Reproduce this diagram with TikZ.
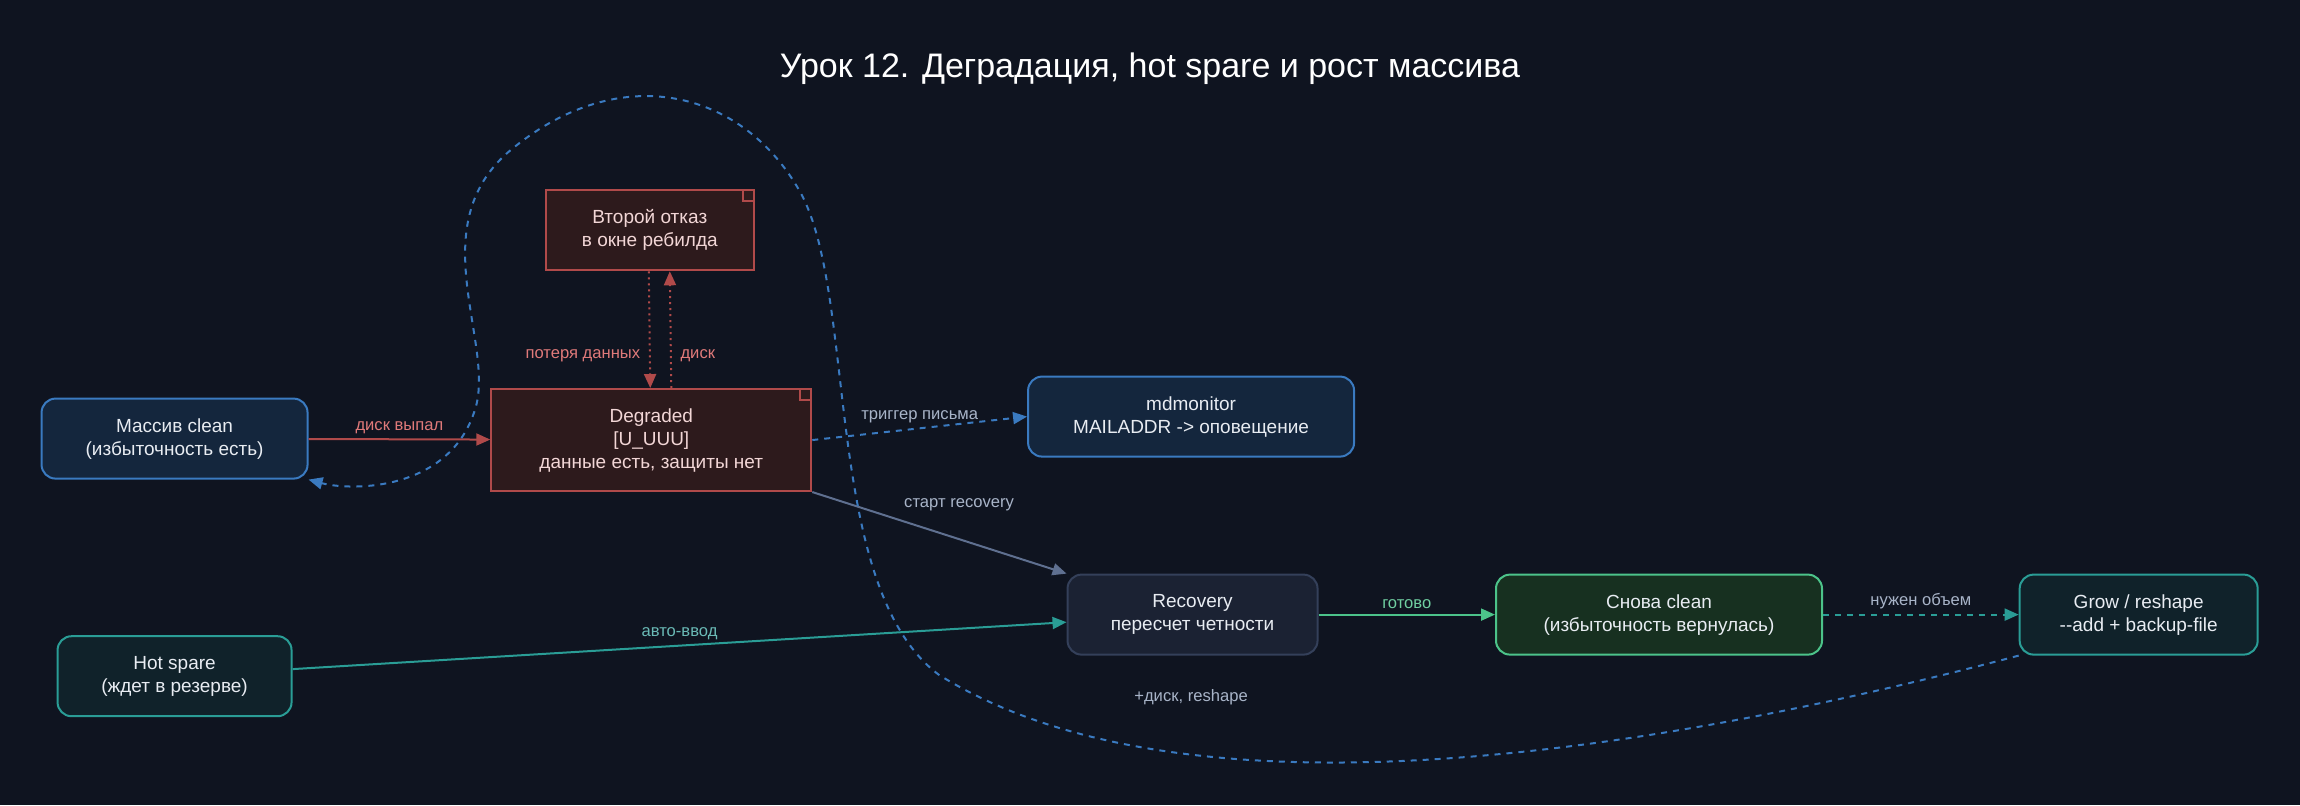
\documentclass[tikz,border=0pt]{standalone}
\usepackage{fontspec}
\setmainfont{Liberation Sans}
\usetikzlibrary{arrows.meta,positioning}
\definecolor{bgc}{HTML}{0F1420}
\definecolor{txtc}{HTML}{E8ECF2}
\definecolor{bluefill}{HTML}{14263D}
\definecolor{blueline}{HTML}{3A7AC0}
\definecolor{redfill}{HTML}{2D1A1C}
\definecolor{redline}{HTML}{B04A4A}
\definecolor{redtxt}{HTML}{F2D6D6}
\definecolor{redlbl}{HTML}{E07A7A}
\definecolor{recfill}{HTML}{1B2233}
\definecolor{recline}{HTML}{34405A}
\definecolor{greyline}{HTML}{5F7090}
\definecolor{greenfill}{HTML}{173020}
\definecolor{greenline}{HTML}{4CC38A}
\definecolor{tealfill}{HTML}{10222A}
\definecolor{tealline}{HTML}{2A9D96}
\definecolor{lblc}{HTML}{A8B4C8}
\tikzset{
    box/.style = {
        draw,
        line width=1pt,
        align=center,
        text=txtc,
        font=\fontsize{9.5}{11.5}\selectfont},
    state/.style = {
        box,
        rounded corners=7pt,
        minimum height=40pt},
    bluebox/.style = {
        state,
        draw=blueline,
        fill=bluefill},
    notebox/.style = {
        box,
        draw=redline,
        fill=redfill,
        text=redtxt},
    recbox/.style = {
        state,
        draw=recline,
        fill=recfill},
    greenbox/.style = {
        state,
        draw=greenline,
        fill=greenfill},
    tealbox/.style = {
        state,
        draw=tealline,
        fill=tealfill},
    lbl/.style = {
        font=\fontsize{8.3}{10}\selectfont,
        text=lblc},
    arr/.style = {
        -{Triangle[length=7pt,width=6pt]},
        line width=1pt}
}
\begin{document}
\begin{tikzpicture}[x=0.7334pt, y=-0.7334pt]
\fill[bgc] (0,0) rectangle (1568,549);
\useasboundingbox (0,0) rectangle (1568,549);

\node [text=white, font=\fontsize{17}{20}\selectfont] (title) at (784,47)
    {Урок 12. Деградация, hot spare и рост массива};

% nodes
\node [bluebox, minimum width=133pt] (clean) at (119,299)
    {Массив clean\\(избыточность есть)};
\node [notebox, minimum width=160pt, minimum height=51pt] (degr) at (444,300)
    {Degraded\\{[U\_UUU]}\\данные есть, защиты нет};
\node [notebox, minimum width=104pt, minimum height=40pt] (second) at (443,157)
    {Второй отказ\\в окне ребилда};
\node [bluebox, minimum width=163pt] (mdmon) at (812,284)
    {mdmonitor\\MAILADDR -> оповещение};
\node [recbox, minimum width=125pt] (recov) at (813,419)
    {Recovery\\пересчет четности};
\node [greenbox, minimum width=163pt] (again) at (1131,419)
    {Снова clean\\(избыточность вернулась)};
\node [tealbox, minimum width=119pt] (grow) at (1458,419)
    {Grow / reshape\\-{}-add + backup-file};
\node [tealbox, minimum width=117pt] (spare) at (119,461)
    {Hot spare\\(ждет в резерве)};

% folded corners
\foreach \n in {degr, second}
    \draw [redline, line width=0.8pt]
        ([xshift=-6pt]\n.north east) -- ++(0,-6pt) -- ++(6pt,0);

% edges
\draw [arr, redline] (clean) -- node [lbl, text=redlbl, above=-1pt] {диск выпал} (degr);
\draw [arr, redline, dotted] ([xshift=-0.5pt]second.south) --
    node [lbl, text=redlbl, pos=0.72, left=1pt] {потеря данных} ([xshift=-0.5pt]degr.north);
\draw [arr, redline, dotted] ([xshift=10pt]degr.north) --
    node [lbl, text=redlbl, pos=0.28, right=1pt] {диск} ([xshift=10pt]second.south);
\draw [arr, blueline, dashed] (degr.east) --
    node [lbl, above=-1pt] {триггер письма} (mdmon.west);
\draw [arr, greyline] (degr.south east) --
    node [lbl, pos=0.3, above right=-1pt and 4pt] {старт recovery} (recov.north west);
\draw [arr, tealline] (spare) --
    node [lbl, text=tealline!70!white, above=-1pt] {авто-ввод} (recov);
\draw [arr, greenline] (recov) --
    node [lbl, text=greenline!80!white, above=-1pt] {готово} (again);
\draw [arr, tealline, dashed] (again) --
    node [lbl, above=-1pt] {нужен объем} (grow);
\draw [arr, blueline, dashed] (grow.south west)
    .. controls (1100,520) and (800,560) .. (640,460)
    .. controls (560,400) and (585,200) .. (545,130)
    .. controls (505,60) and (420,40) .. (345,105)
    .. controls (290,155) and (335,230) .. (325,275)
    .. controls (310,335) and (240,335) .. (clean.south east);
\node [lbl] (growlbl) at (812,475) {+диск, reshape};
\end{tikzpicture}
\end{document}
